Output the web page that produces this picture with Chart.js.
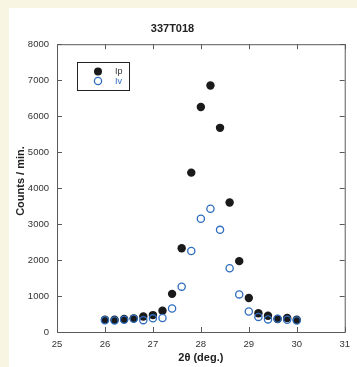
<!DOCTYPE html>
<html>
<head>
<meta charset="utf-8">
<script src="https://cdn.jsdelivr.net/npm/chart.js@4.4.1/dist/chart.umd.min.js"></script>
<style>
  html, body { margin: 0; padding: 0; }
  body { width: 357px; height: 367px; background: #f8f6e2; position: relative; overflow: hidden; }
  #panel { position: absolute; left: 9px; top: 8px; right: 0; bottom: 0; background: #ffffff; }
  #peakChart { position: absolute; left: 0; top: 0; }
</style>
</head>
<body>
<div id="panel"></div>
<canvas id="peakChart" width="357" height="367"></canvas>
<script>
// 2-theta positions (deg.)
const twoTheta = [26.0, 26.2, 26.4, 26.6, 26.8, 27.0, 27.2, 27.4, 27.6, 27.8, 28.0,
  28.2, 28.4, 28.6, 28.8, 29.0, 29.2, 29.4, 29.6, 29.8, 30.0];
// counts per minute
const ipCounts = [340, 340, 360, 380, 430, 470, 590, 1060, 2330, 4430, 6255,
  6850, 5675, 3600, 1970, 945, 520, 450, 360, 390, 340];
const ivCounts = [330, 320, 340, 370, 330, 380, 390, 655, 1260, 2250, 3150,
  3425, 2840, 1770, 1045, 570, 420, 350, 370, 340, 320];
const xTicks = [25, 26, 27, 28, 29, 30, 31];
const yTicks = [0, 1000, 2000, 3000, 4000, 5000, 6000, 7000, 8000];

const FONT = '"Liberation Sans", Arial, Helvetica, sans-serif';
const BLUE = '#2f6dbf';

function toPoints(xs, ys) {
  return xs.map((x, i) => ({ x: x, y: ys[i] }));
}

// frame with inward ticks, axis titles and the little legend box
const framePlugin = {
  id: 'frame',
  afterDraw(chart) {
    const ctx = chart.ctx;
    const a = chart.chartArea;
    const xs = chart.scales.x;
    const ys = chart.scales.y;
    const t = 5;
    ctx.save();
    ctx.strokeStyle = '#5a5a5a';
    ctx.lineWidth = 1;
    ctx.strokeRect(a.left + 0.5, a.top + 0.5, a.right - a.left, a.bottom - a.top);
    ctx.beginPath();
    xTicks.forEach((v) => {
      const px = Math.round(xs.getPixelForValue(v)) + 0.5;
      ctx.moveTo(px, a.bottom); ctx.lineTo(px, a.bottom - t);
      ctx.moveTo(px, a.top); ctx.lineTo(px, a.top + t);
    });
    yTicks.forEach((v) => {
      const py = Math.round(ys.getPixelForValue(v)) + 0.5;
      ctx.moveTo(a.left, py); ctx.lineTo(a.left + t, py);
      ctx.moveTo(a.right, py); ctx.lineTo(a.right - t, py);
    });
    ctx.stroke();

    // axis titles
    ctx.fillStyle = '#222';
    ctx.font = 'bold 11px ' + FONT;
    ctx.textAlign = 'center';
    ctx.textBaseline = 'middle';
    ctx.fillText('2\u03b8 (deg.)', (a.left + a.right) / 2, 358);
    ctx.save();
    ctx.translate(21, 181);
    ctx.rotate(-Math.PI / 2);
    ctx.fillText('Counts / min.', 0, 0);
    ctx.restore();

    // legend
    ctx.strokeStyle = '#222';
    ctx.strokeRect(77.5, 62.5, 52, 28);
    ctx.fillStyle = '#1a1a1a';
    ctx.beginPath();
    ctx.arc(98, 71.5, 4, 0, Math.PI * 2);
    ctx.fill();
    ctx.strokeStyle = BLUE;
    ctx.lineWidth = 1.3;
    ctx.beginPath();
    ctx.arc(98, 81, 3.6, 0, Math.PI * 2);
    ctx.stroke();
    ctx.font = '9px ' + FONT;
    ctx.textAlign = 'left';
    ctx.fillStyle = '#333';
    ctx.fillText('Ip', 115, 72);
    ctx.fillStyle = BLUE;
    ctx.fillText('Iv', 115, 81.5);
    ctx.restore();
  },
};

const ctx = document.getElementById('peakChart').getContext('2d');
new Chart(ctx, {
  type: 'scatter',
  data: {
    datasets: [
      {
        label: 'Iv',
        data: toPoints(twoTheta, ivCounts),
        pointRadius: 3.6,
        pointBorderWidth: 1.3,
        pointBorderColor: BLUE,
        pointBackgroundColor: 'rgba(255,255,255,0)',
        order: 0,
      },
      {
        label: 'Ip',
        data: toPoints(twoTheta, ipCounts),
        pointRadius: 4.2,
        pointBorderWidth: 0,
        pointBorderColor: '#1a1a1a',
        pointBackgroundColor: '#1a1a1a',
        order: 1,
      },
    ],
  },
  options: {
    responsive: false,
    animation: false,
    devicePixelRatio: 1,
    layout: { padding: { left: 0, right: 12, top: 0, bottom: 0 } },
    plugins: {
      legend: { display: false },
      tooltip: { enabled: false },
      title: {
        display: true,
        text: '337T018',
        color: '#222',
        font: { family: FONT, size: 11, weight: 'bold' },
        padding: { top: 22, bottom: 9 },
      },
    },
    scales: {
      x: {
        type: 'linear',
        min: 25,
        max: 31,
        afterBuildTicks: (scale) => { scale.ticks = xTicks.map((v) => ({ value: v })); },
        afterFit: (scale) => { scale.height = 35; },
        grid: { display: false, drawTicks: false },
        border: { display: false },
        ticks: {
          color: '#333',
          padding: 7,
          font: { family: FONT, size: 9.5 },
          callback: (v) => String(v),
        },
      },
      y: {
        min: 0,
        max: 8000,
        afterBuildTicks: (scale) => { scale.ticks = yTicks.map((v) => ({ value: v })); },
        afterFit: (scale) => { scale.width = 57; },
        grid: { display: false, drawTicks: false },
        border: { display: false },
        ticks: {
          color: '#333',
          padding: 8,
          font: { family: FONT, size: 9.5 },
          callback: (v) => String(v),
        },
      },
    },
  },
  plugins: [framePlugin],
});
</script>
</body>
</html>
